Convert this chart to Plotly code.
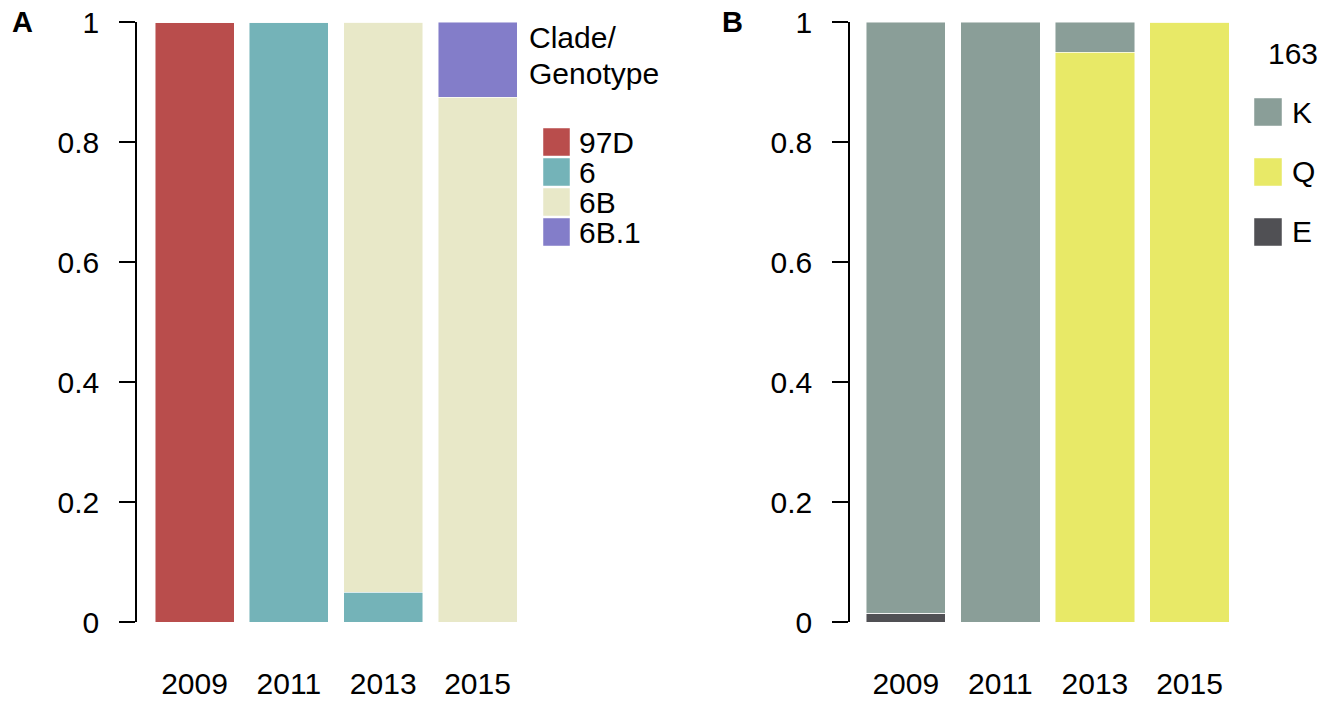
import plotly.graph_objects as go

W, H = 1335, 702

years = ["2009", "2011", "2013", "2015"]

# Panel A: clade / genotype proportions
clade_names = ["97D", "6", "6B", "6B.1"]
clade_colors = ["#B94D4C", "#74B3B8", "#E8E8C8", "#837DC9"]
a_97D = [1.0, 0.0, 0.0, 0.0]
a_6 = [0.0, 1.0, 0.05, 0.0]
a_6B = [0.0, 0.0, 0.95, 0.875]
a_6B1 = [0.0, 0.0, 0.0, 0.125]

# Panel B: residue 163 proportions
res_names = ["K", "Q", "E"]
res_colors = ["#8A9E98", "#E8E967", "#505054"]
b_K = [0.985, 1.0, 0.05, 0.0]
b_Q = [0.0, 0.0, 0.95, 1.0]
b_E = [0.015, 0.0, 0.0, 0.0]

y_ticks = [0, 0.2, 0.4, 0.6, 0.8, 1]
y_ticktext = ["0", "0.2", "0.4", "0.6", "0.8", "1"]

FONT = "Liberation Sans, Arial, sans-serif"
FS = 30

def px(x):
    return x / W

def py(y):
    return 1 - y / H

xs = list(range(len(years)))
fig = go.Figure()

a_series = [a_97D, a_6, a_6B, a_6B1]
for name, col, vals in zip(clade_names, clade_colors, a_series):
    fig.add_trace(go.Bar(x=xs, y=vals, name=name, marker_color=col,
                         marker_line=dict(color="rgba(255,255,255,0.6)", width=0.8),
                         xaxis="x", yaxis="y", showlegend=False))

b_series = {"K": b_K, "Q": b_Q, "E": b_E}
# stacking order bottom to top: E, Q, K
for name in ["E", "Q", "K"]:
    col = res_colors[res_names.index(name)]
    fig.add_trace(go.Bar(x=xs, y=b_series[name], name=name, marker_color=col,
                         marker_line=dict(color="rgba(255,255,255,0.6)", width=0.8),
                         xaxis="x2", yaxis="y2", showlegend=False))

ydom = [py(622), py(22)]
yax = dict(range=[0, 1], tickvals=y_ticks, ticktext=y_ticktext, showgrid=False,
           zeroline=False, showline=True, linecolor="black", linewidth=1.5,
           ticks="outside", ticklen=16, tickwidth=1.5, tickcolor="black",
           ticklabelstandoff=14, tickfont=dict(size=FS, color="black", family=FONT),
           domain=ydom, automargin=False)
xax = dict(tickvals=xs, ticktext=years, showgrid=False, zeroline=False, showline=False,
           ticks="", ticklabelstandoff=41, automargin=False,
           tickfont=dict(size=FS, color="black", family=FONT))

fig.update_layout(
    width=W, height=H,
    margin=dict(l=0, r=0, t=0, b=0, pad=0),
    paper_bgcolor="white", plot_bgcolor="white",
    barmode="stack", bargap=0.162,
    font=dict(family=FONT, size=FS, color="black"),
    xaxis=dict(xax, domain=[px(137), px(524.7)], range=[-0.61, 3.5], anchor="y"),
    yaxis=dict(yax, anchor="x"),
    xaxis2=dict(xax, domain=[px(850), px(1236.8)], range=[-0.59, 3.5], anchor="y2"),
    yaxis2=dict(yax, anchor="x2"),
)

annotations = []
shapes = []
# panel labels
annotations.append(dict(x=px(10), y=py(22), xref="paper", yref="paper", text="<b>A</b>",
                        showarrow=False, xanchor="left", yanchor="middle",
                        font=dict(size=29, family=FONT, color="black")))
annotations.append(dict(x=px(720), y=py(22), xref="paper", yref="paper", text="<b>B</b>",
                        showarrow=False, xanchor="left", yanchor="middle",
                        font=dict(size=29, family=FONT, color="black")))

# Legend A
annotations.append(dict(x=px(527), y=py(38), xref="paper", yref="paper", text="Clade/",
                        showarrow=False, xanchor="left", yanchor="middle",
                        font=dict(size=FS, family=FONT, color="black")))
annotations.append(dict(x=px(527), y=py(73), xref="paper", yref="paper", text="Genotype",
                        showarrow=False, xanchor="left", yanchor="middle",
                        font=dict(size=FS, family=FONT, color="black")))
for i, (name, col) in enumerate(zip(clade_names, clade_colors)):
    cy = 142 + 30 * i
    shapes.append(dict(type="rect", xref="paper", yref="paper",
                       x0=px(543), x1=px(570), y0=py(cy + 14), y1=py(cy - 14),
                       fillcolor=col, line=dict(color="rgba(255,255,255,0.6)", width=0.8)))
    annotations.append(dict(x=px(577), y=py(cy), xref="paper", yref="paper", text=name,
                            showarrow=False, xanchor="left", yanchor="middle", height=30,
                            font=dict(size=FS, family=FONT, color="black")))

# Legend B
annotations.append(dict(x=px(1320), y=py(54), xref="paper", yref="paper", text="163",
                        showarrow=False, xanchor="right", yanchor="middle",
                        font=dict(size=FS, family=FONT, color="black")))
for i, (name, col) in enumerate(zip(res_names, res_colors)):
    cy = 112 + 60 * i
    shapes.append(dict(type="rect", xref="paper", yref="paper",
                       x0=px(1254), x1=px(1282), y0=py(cy + 14), y1=py(cy - 14),
                       fillcolor=col, line=dict(color="rgba(255,255,255,0.6)", width=0.8)))
    annotations.append(dict(x=px(1290), y=py(cy), xref="paper", yref="paper", text=name,
                            showarrow=False, xanchor="left", yanchor="middle",
                            font=dict(size=FS, family=FONT, color="black")))

fig.update_layout(annotations=annotations, shapes=shapes)

fig.write_html("out.html", config={"displayModeBar": False},
               post_script="document.body.style.margin='0';document.body.style.overflow='hidden';")
